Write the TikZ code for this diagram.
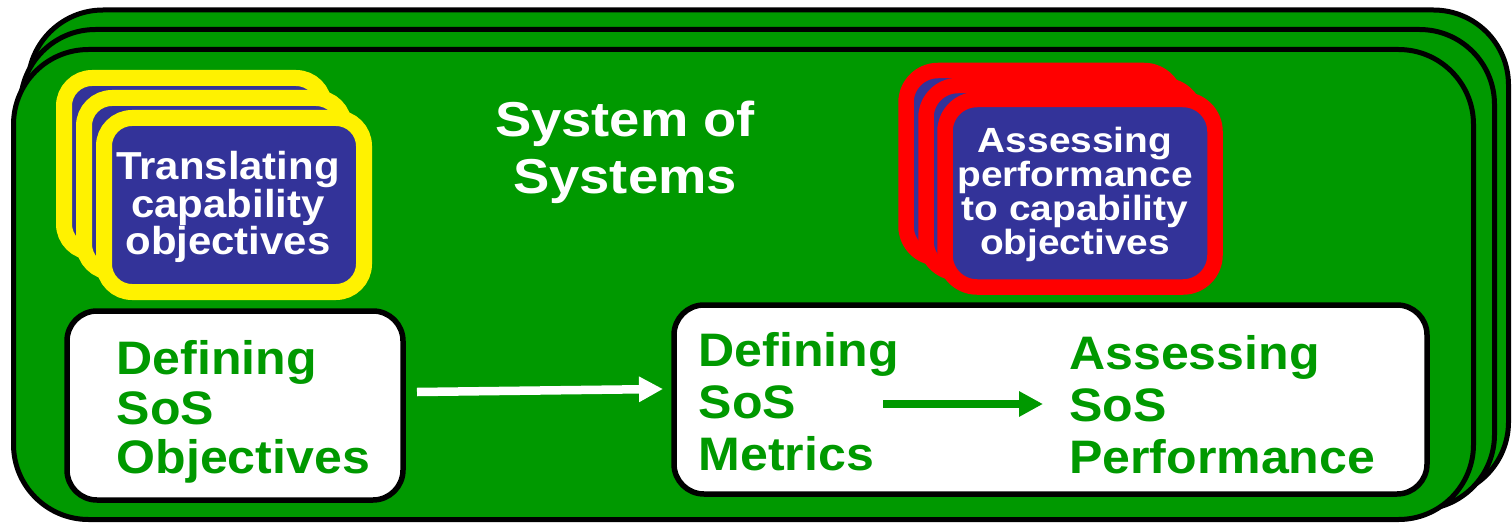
\documentclass[tikz,border=0pt]{standalone}
\usepackage{fontspec}
\setmainfont{Liberation Sans}
\newfontfamily\boxfont{Liberation Sans}[FakeStretch=1.065]
\newfontfamily\wideA{Liberation Sans}[FakeStretch=1.11]
\newfontfamily\wideB{Liberation Sans}[FakeStretch=1.075]
\usetikzlibrary{arrows.meta,calc}
\definecolor{sosgreen}{RGB}{0,153,0}
\definecolor{navy}{RGB}{51,51,153}
\tikzset{
  greenbox/.style={draw=black, line width=5pt, fill=sosgreen, rounded corners=75pt},
  ycard/.style={draw=yellow, line width=16pt, fill=navy, rounded corners=28pt},
  rcard/.style={draw=red, line width=15.5pt, fill=navy, rounded corners=32pt},
  whitebox/.style={draw=black, line width=5.5pt, fill=white, rounded corners=30pt, inner sep=0pt},
  wtext/.style={text=sosgreen, align=left, inner sep=0pt, anchor=north west},
  ntext/.style={text=white, align=center, inner sep=0pt, anchor=north},
  garrow/.style={draw=sosgreen, line width=8pt, -{Triangle[length=24pt,width=24pt]}},
  warrow/.style={draw=white, line width=8.5pt, -{Triangle[length=24pt,width=24pt]}}
}
\begin{document}
\begin{tikzpicture}[x=1pt,y=-1pt]
\useasboundingbox (0,0) rectangle (1512,524);
% stacked green system-of-systems panels
\draw[greenbox] (28,10) rectangle (1508.5,497);
\draw[greenbox] (20.5,29.5) rectangle (1494.5,509.5);
\draw[greenbox] (13.5,49.5) rectangle (1473.5,519.5);
% yellow stack
\draw[ycard] (64,78) rectangle (324,252);
\draw[ycard] (84,98) rectangle (344,272);
\node[ycard, minimum width=260pt, minimum height=174pt, inner sep=0pt] (ybox) at (234,205) {};
% red stack
\draw[rcard] (906,70.5) rectangle (1176,258);
\draw[rcard] (926,85.5) rectangle (1196,273);
\node[rcard, minimum width=270pt, minimum height=187.5pt, inner sep=0pt] (rcardbox) at (1080,193.25) {};
% texts in navy boxes
\node[ntext, font=\wideB\bfseries\fontsize{39}{37.5}\selectfont] (ytext) at (228,151.5) {Translating\\capability\\objectives};
\node[ntext, font=\wideA\bfseries\fontsize{35}{34.3}\selectfont] (rtext) at (1075,126.5) {Assessing\\performance\\to capability\\objectives};
% title
\node[ntext, font=\wideA\bfseries\fontsize{49}{57}\selectfont] (title) at (625,101) {System of\\Systems};
% white boxes
\node[whitebox, minimum width=336pt, minimum height=189pt] (lbox) at (235,405.5) {};
\node[whitebox, minimum width=753pt, minimum height=189pt] (rbox) at (1050.5,399.5) {};
\node[wtext, font=\boxfont\bfseries\fontsize{47}{49.5}\selectfont] (t1) at (116.5,340.7) {Defining\\SoS\\Objectives};
\node[wtext, font=\boxfont\bfseries\fontsize{47}{52}\selectfont] (t2) at (698.5,332.7) {Defining\\SoS\\Metrics};
\node[wtext, font=\boxfont\bfseries\fontsize{47}{52}\selectfont] (t3) at (1069,335) {Assessing\\SoS\\Performance};
% arrows
\draw[warrow] ($(lbox.east)+(11.25,-13.5)$) -- ($(rbox.west)+(-8.25,-10.5)$);
\draw[garrow] ($(t2.east |- rbox.center)+(-16,4.5)$) -- ($(t3.west |- rbox.center)+(-26,4.5)$);
\end{tikzpicture}
\end{document}
